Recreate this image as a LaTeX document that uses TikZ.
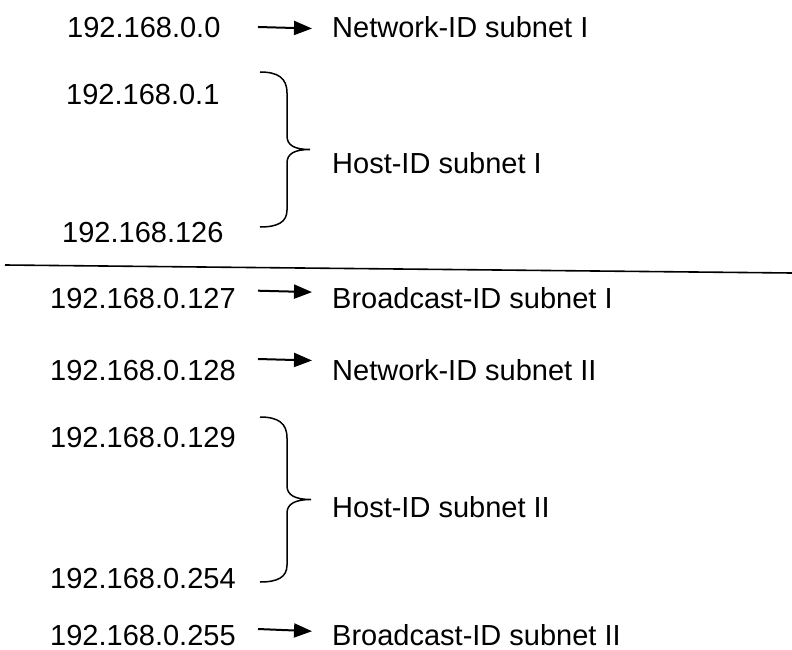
\documentclass[tikz,border=0pt]{standalone}
\usepackage{fontspec}
\setmainfont{Liberation Sans}
\usetikzlibrary{arrows.meta,calc}
\begin{document}
\begin{tikzpicture}[x=1pt,y=-1pt,
  txt/.style={font=\fontsize{29}{34}\selectfont, inner sep=0pt, anchor=base west},
  arr/.style={line width=2pt, -{Triangle[length=18pt,width=14pt]}, shorten >=20pt},
  bracestyle/.style={line width=1.5pt},
  sep/.style={line width=1.6pt}]
\useasboundingbox (0,0) rectangle (792,650);
% addresses
\node[txt] (ip1) at (67,37.5) {192.168.0.0};
\node[txt] (ip2) at (66,105) {192.168.0.1};
\node[txt] (ip3) at (62,242) {192.168.126};
\node[txt] (ip4) at (50,308) {192.168.0.127};
\node[txt] (ip5) at (50,380) {192.168.0.128};
\node[txt] (ip6) at (50,447) {192.168.0.129};
\node[txt] (ip7) at (50,588) {192.168.0.254};
\node[txt] (ip8) at (50,645) {192.168.0.255};
% labels
\node[txt] (l1) at (332,38) {Network-ID subnet I};
\node[txt] (h1) at (332,173) {Host-ID subnet I};
\node[txt] (l4) at (332,308) {Broadcast-ID subnet I};
\node[txt] (l5) at (332,380) {Network-ID subnet II};
\node[txt] (h2) at (332,517) {Host-ID subnet II};
\node[txt] (l8) at (332,645) {Broadcast-ID subnet II};
% arrows
\coordinate (a1) at (258,27);
\coordinate (a4) at (258,290.7);
\coordinate (a5) at (258,359);
\coordinate (a8) at (258,629);
\draw[arr] (a1) -- ($(l1.west)+(0,1.4)$);
\draw[arr] (a4) -- ($(l4.west)+(0,-5)$);
\draw[arr] (a5) -- ($(l5.west)+(0,-8.6)$);
\draw[arr] (a8) -- ($(l8.west)+(0,-2.6)$);
% separator
\coordinate (s1) at (5,265);
\coordinate (s2) at (792,273);
\draw[sep] (s1) -- (s2);
% brace 1
\coordinate (b1t) at (260,72);
\coordinate (b1m) at (310,149.5);
\coordinate (b1b) at (260,227);
\draw[bracestyle] (b1t) .. controls (278,72) and (287,78) .. (287,93) -- (287,136)
  .. controls (287,145) and (294,149.5) .. (b1m)
  .. controls (294,149.5) and (287,154) .. (287,163) -- (287,210)
  .. controls (287,222) and (278,227) .. (b1b);
% brace 2
\coordinate (b2t) at (260,417);
\coordinate (b2m) at (311,499.5);
\coordinate (b2b) at (260,582);
\draw[bracestyle] (b2t) .. controls (278,417) and (287,423) .. (287,438) -- (287,486)
  .. controls (287,495) and (295,499.5) .. (b2m)
  .. controls (295,499.5) and (287,504) .. (287,513) -- (287,565)
  .. controls (287,577) and (278,582) .. (b2b);
\end{tikzpicture}
\end{document}
